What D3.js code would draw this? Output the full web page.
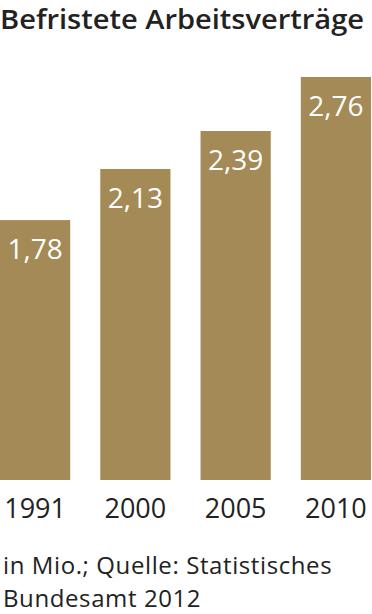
<!DOCTYPE html>
<html>
<head>
<meta charset="utf-8">
<script src="https://cdn.jsdelivr.net/npm/d3@7"></script>
<style>
  body { margin: 0; background: #fff; }
  svg text { font-family: "Open Sans", sans-serif; }
</style>
</head>
<body>
<svg id="chart" width="372" height="614"></svg>
<script>
var years  = ["1991", "2000", "2005", "2010"]
  , values = [1.78, 2.13, 2.39, 2.76]
  , title  = "Befristete Arbeitsverträge"
  , source = ["in Mio.; Quelle: Statistisches", "Bundesamt 2012"];

var barColor = "#a38a56"
  , textColor = "#222"
  , base = 480
  , fmt = function (v) { return d3.format(".2f")(v).replace(".", ","); };

var svg = d3.select("#chart");

var x = d3.scaleBand()
  .domain(years)
  .range([0, 371])
  .paddingInner(0.3)
  .paddingOuter(0);

var y = d3.scaleLinear()
  .domain([0, 2.76])
  .range([base, 77]);

svg.append("text")
  .attr("x", 0)
  .attr("y", 29)
  .attr("font-size", 27)
  .attr("font-weight", 600)
  .attr("fill", textColor)
  .attr("textLength", 364)
  .attr("lengthAdjust", "spacingAndGlyphs")
  .text(title);

var bars = svg.selectAll(".bar")
  .data(values)
  .enter().append("g")
  .attr("class", "bar");

bars.append("rect")
  .attr("x", function (d, i) { return x(years[i]); })
  .attr("y", function (d) { return y(d); })
  .attr("width", x.bandwidth())
  .attr("height", function (d) { return base - y(d); })
  .attr("fill", barColor);

bars.append("text")
  .attr("x", function (d, i) { return x(years[i]) + x.bandwidth() / 2; })
  .attr("y", function (d) { return y(d) + 39; })
  .attr("text-anchor", "middle")
  .attr("font-size", 28)
  .attr("fill", "#fff")
  .text(fmt);

// years below the bars
var xAxis = d3.axisBottom(x).tickSize(0).tickPadding(0);
var ax = svg.append("g")
  .attr("transform", "translate(0," + base + ")")
  .call(xAxis);
ax.select(".domain").remove();
ax.selectAll("text")
  .attr("y", 38)
  .attr("dy", null)
  .attr("font-size", 27)
  .attr("font-family", "Open Sans, sans-serif")
  .attr("fill", textColor);

svg.selectAll(".src")
  .data(source)
  .enter().append("text")
  .attr("class", "src")
  .attr("x", 3)
  .attr("y", function (d, i) { return 574 + i * 33; })
  .attr("font-size", 24)
  .attr("letter-spacing", 0.6)
  .attr("fill", textColor)
  .text(function (d) { return d; });
</script>
</body>
</html>
